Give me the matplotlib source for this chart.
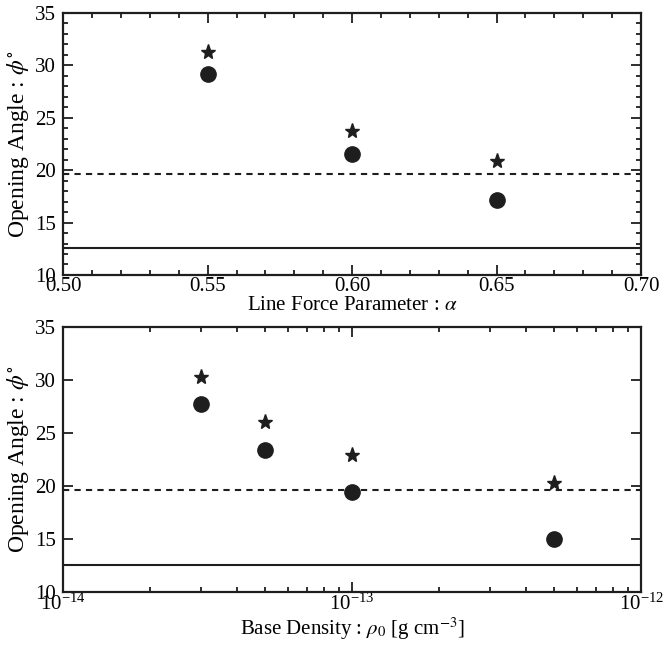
import numpy as np
import matplotlib
matplotlib.use("Agg")
from matplotlib import pyplot as plt
from matplotlib.ticker import MultipleLocator, LogLocator, NullFormatter, FormatStrFormatter

plt.rcParams['font.family'] = ['Liberation Serif', 'DejaVu Serif']
plt.rcParams['mathtext.fontset'] = 'stix'
plt.rcParams['font.size'] = 15

# Panel 1: line force parameter alpha
alpha = [0.55, 0.60, 0.65]
alpha_star = [31.3, 23.7, 20.9]
alpha_circ = [29.2, 21.5, 17.2]

# Panel 2: base density rho_0
rho = [3e-14, 5e-14, 1e-13, 5e-13]
rho_star = [30.3, 26.0, 22.9, 20.3]
rho_circ = [27.7, 23.4, 19.4, 15.0]

# reference lines
dashed_level = 19.65
solid_level = 12.55

col = '#1e1e1e'

fig = plt.figure(figsize=(6.65, 6.47), dpi=100)
ax1 = fig.add_axes([0.095, 0.575, 0.869, 0.405])
ax2 = fig.add_axes([0.095, 0.085, 0.869, 0.410])


def style(ax):
    ax.tick_params(which='both', direction='in', top=True, right=True, width=1.3, color=col, labelsize=15)
    ax.tick_params(which='major', length=7)
    ax.tick_params(which='minor', length=3.5)
    ax.tick_params(axis='x', pad=1.5)
    ax.tick_params(axis='y', pad=5)
    for s in ax.spines.values():
        s.set_linewidth(1.6)
        s.set_color(col)
    ax.set_ylim(10, 35)
    ax.yaxis.set_major_locator(MultipleLocator(5))
    ax.set_ylabel(r'Opening Angle : $\phi^{\circ}$', fontsize=17, labelpad=3)


ax1.axhline(dashed_level, color=col, ls=(0, (3, 2.5)), lw=1.5)
ax1.axhline(solid_level, color=col, ls='-', lw=1.5)
ax1.plot(alpha, alpha_star, ls='none', marker='*', ms=11, color=col)
ax1.plot(alpha, alpha_circ, ls='none', marker='o', ms=11, color=col)
ax1.set_xlim(0.50, 0.70)
ax1.xaxis.set_major_locator(MultipleLocator(0.05))
ax1.xaxis.set_minor_locator(MultipleLocator(0.01))
ax1.yaxis.set_minor_locator(MultipleLocator(1))
ax1.xaxis.set_major_formatter(FormatStrFormatter('%.2f'))
ax1.set_xlabel(r'Line Force Parameter : $\alpha$', fontsize=15, labelpad=0)
style(ax1)

ax2.axhline(dashed_level, color=col, ls=(0, (3, 2.5)), lw=1.5)
ax2.axhline(solid_level, color=col, ls='-', lw=1.5)
ax2.plot(rho, rho_star, ls='none', marker='*', ms=11, color=col)
ax2.plot(rho, rho_circ, ls='none', marker='o', ms=11, color=col)
ax2.set_xscale('log')
ax2.set_xlim(1e-14, 1e-12)
ax2.xaxis.set_major_locator(LogLocator(base=10, numticks=5))
ax2.xaxis.set_minor_locator(LogLocator(base=10, subs=np.arange(2, 10), numticks=20))
ax2.xaxis.set_minor_formatter(NullFormatter())
ax2.set_xlabel(r'Base Density : $\rho_0$ [g cm$^{-3}$]', fontsize=15, labelpad=0)
style(ax2)

fig.savefig('out.png', dpi=100)
